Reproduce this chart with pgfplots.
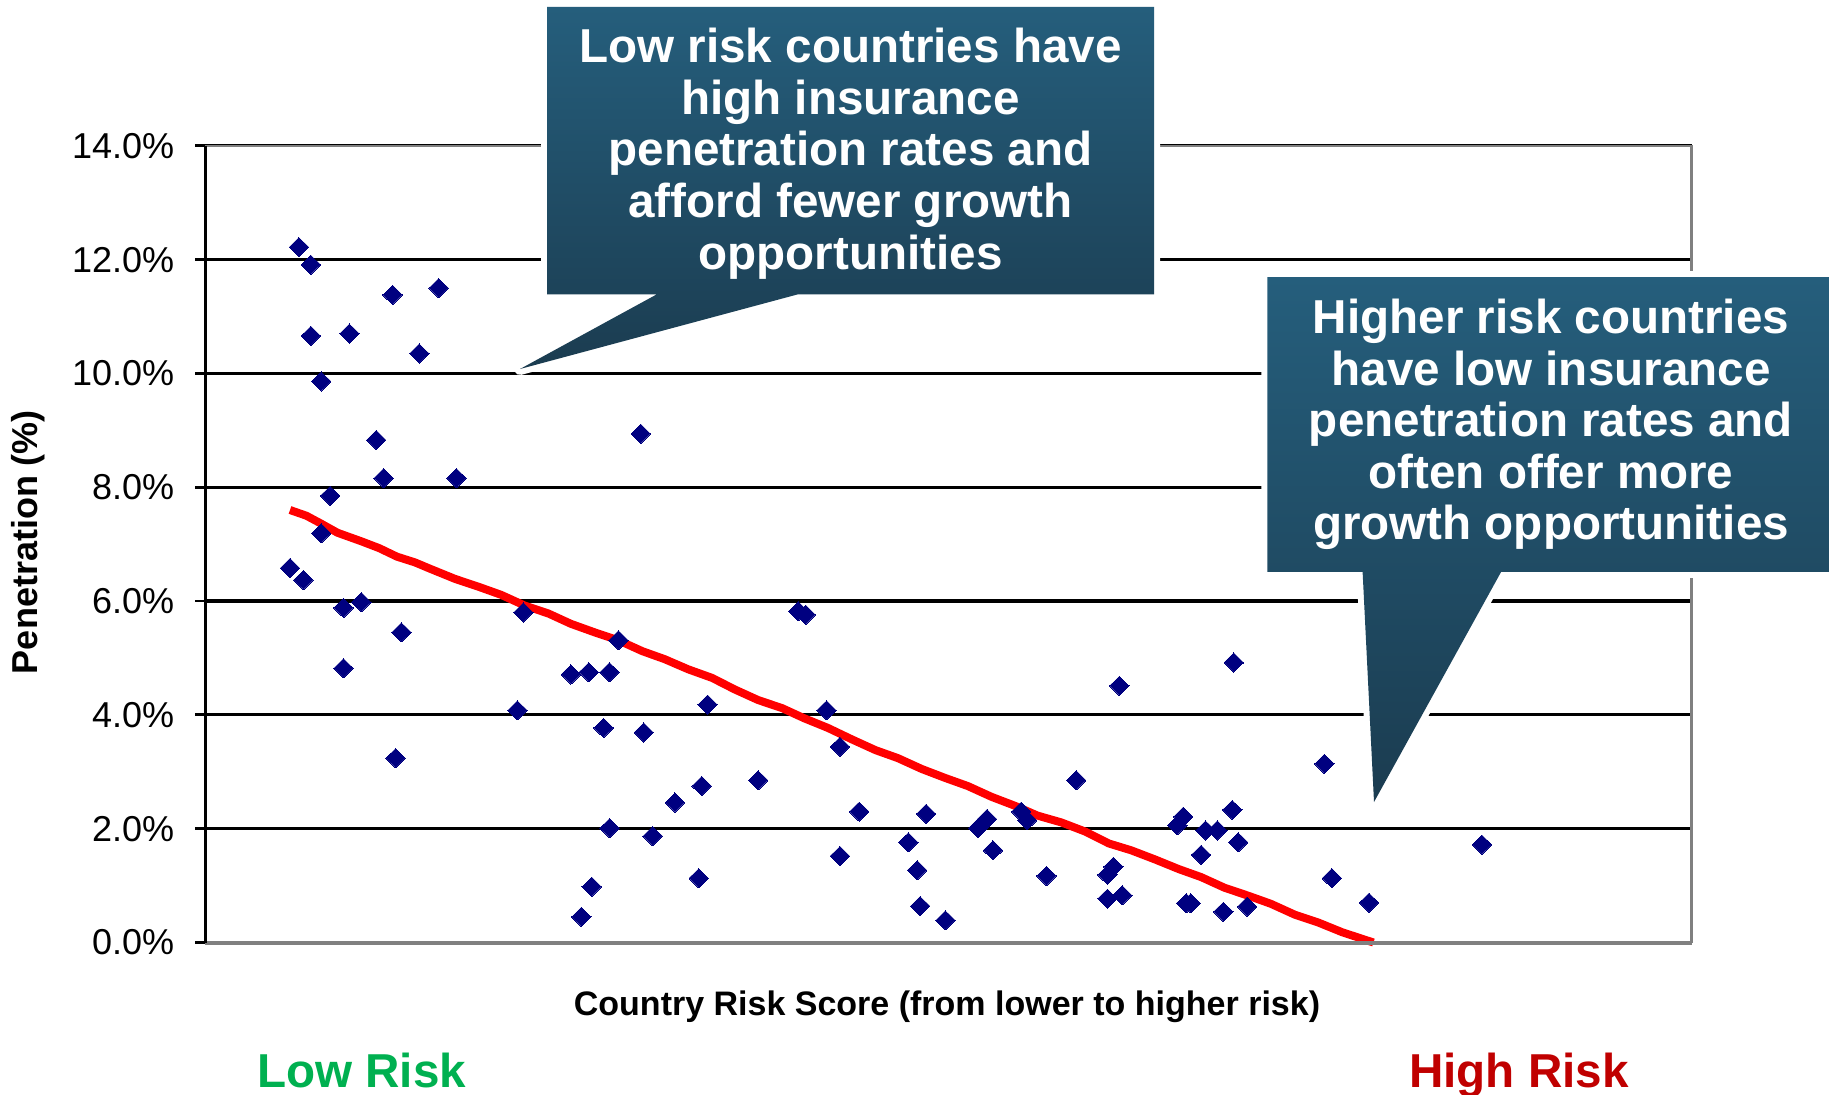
\documentclass[border=0pt]{standalone}
\usepackage{pgfplots}
\usepackage{pgfplotstable}
\pgfplotsset{compat=1.18}
\usepackage{fontspec}
\setmainfont{Liberation Sans}
\definecolor{navy}{RGB}{0,0,128}
\definecolor{lowgreen}{RGB}{0,176,80}
\definecolor{highred}{RGB}{192,0,0}
\definecolor{calltop}{RGB}{37,94,124}
\definecolor{callbot}{RGB}{27,60,80}
\definecolor{bordergray}{RGB}{128,128,128}

\pgfplotstableread{
x y
5.7 6.58
6.3 12.22
6.6 6.37
7.1 11.91
7.1 10.66
7.8 9.86
7.8 7.19
8.4 7.85
9.3 5.88
9.3 4.82
9.7 10.70
10.5 5.98
11.5 8.83
12.0 8.16
12.6 11.38
12.8 3.24
13.2 5.45
14.4 10.35
15.7 11.50
16.9 8.16
21.0 4.08
21.4 5.80
24.6 4.71
25.3 0.45
25.8 4.75
26.0 0.98
26.8 3.77
27.2 4.75
27.2 2.01
27.8 5.31
29.3 8.94
29.5 3.69
30.1 1.87
31.6 2.46
33.2 1.13
33.4 2.75
33.8 4.18
37.2 2.85
39.9 5.82
40.4 5.76
41.8 4.08
42.7 3.44
42.7 1.52
44.0 2.30
47.3 1.76
47.9 1.27
48.1 0.64
48.5 2.26
49.8 0.39
52.0 2.01
52.6 2.17
53.0 1.62
54.9 2.30
55.3 2.15
56.6 1.17
58.6 2.85
60.7 1.19
60.7 0.77
61.1 1.33
61.5 4.51
61.7 0.83
65.4 2.06
65.8 2.21
66.0 0.69
66.3 0.69
67.0 1.54
67.3 1.97
68.1 1.97
68.5 0.54
69.1 2.33
69.2 4.92
69.5 1.76
70.1 0.63
75.3 3.14
75.8 1.13
78.3 0.70
85.9 1.72
}\scatterdata

\pgfplotstableread{
x y
5.7 7.60
6.8 7.50
7.8 7.36
8.9 7.20
10.5 7.05
11.7 6.93
12.9 6.78
14.1 6.68
15.2 6.56
16.8 6.39
18.4 6.25
19.9 6.11
21.5 5.92
23.1 5.78
24.6 5.60
26.2 5.45
27.8 5.31
29.4 5.12
30.9 4.98
32.5 4.80
34.1 4.65
35.6 4.45
37.2 4.26
38.8 4.12
40.3 3.94
41.9 3.77
43.5 3.57
45.1 3.38
46.6 3.24
48.2 3.05
49.8 2.89
51.3 2.75
52.9 2.56
54.5 2.40
56.0 2.23
57.6 2.11
59.2 1.95
60.8 1.74
62.3 1.62
63.9 1.46
65.5 1.29
67.0 1.15
68.6 0.96
70.2 0.82
71.7 0.68
73.3 0.49
74.9 0.35
76.5 0.18
78.6 0.00
}\trenddata

\begin{document}
\begin{tikzpicture}
\path[use as bounding box] (-102.65pt,-75.75pt) rectangle (811.85pt,471.25pt);
\begin{axis}[
  at={(0pt,0pt)}, anchor=south west,
  scale only axis, width=743.1pt, height=398.35pt,
  xmin=0, xmax=100, ymin=0, ymax=14,
  xtick=\empty,
  ytick={0,2,4,6,8,10,12,14},
  yticklabels={0.0\%,2.0\%,4.0\%,6.0\%,8.0\%,10.0\%,12.0\%,14.0\%},
  ymajorgrids, grid style={black, line width=1.6pt},
  axis line style={draw=none},
  tick align=outside, ytick pos=left, major tick length=5pt,
  major tick style={black, line width=1.4pt},
  yticklabel style={font=\fontsize{18}{18}\selectfont, xshift=-7pt},
  /pgf/number format/assume math mode=true,
  clip=false,
]
\addplot[only marks, mark=diamond*, mark size=4.8pt, mark options={xscale=1.35, fill=navy, draw=navy, line width=0pt}] table[x=x,y=y] {\scatterdata};
\addplot[red, line width=4pt, no markers, line join=round] table[x=x,y=y] {\trenddata};
\draw[bordergray, line width=1.3pt] (rel axis cs:0,1) -- (rel axis cs:1,1) -- (rel axis cs:1,0);
\draw[bordergray, line width=2pt] (rel axis cs:0,0) -- (rel axis cs:1,0);
\draw[black, line width=1.4pt] (rel axis cs:0,0) -- (rel axis cs:0,1);
\end{axis}

% left callout
\draw[white, line width=6pt, line join=round] (170.85pt,467.75pt) -- (474.35pt,467.75pt) -- (474.35pt,324pt) -- (296pt,324pt) -- (157.35pt,286.75pt) -- (225.6pt,324pt) -- (170.85pt,324pt) -- cycle;
\shade[top color=calltop, bottom color=callbot] (170.85pt,467.75pt) -- (474.35pt,467.75pt) -- (474.35pt,324pt) -- (296pt,324pt) -- (157.35pt,286.75pt) -- (225.6pt,324pt) -- (170.85pt,324pt) -- cycle;
\node[white, font=\bfseries\fontsize{23.8}{25.8}\selectfont, align=center] at (322.6pt,394.5pt) {Low risk countries have\\high insurance\\penetration rates and\\afford fewer growth\\opportunities};

% right callout
\draw[white, line width=6pt, line join=round] (531.05pt,332.65pt) -- (815pt,332.65pt) -- (815pt,185.3pt) -- (647.9pt,185.3pt) -- (584.35pt,70.25pt) -- (578.65pt,185.3pt) -- (531.05pt,185.3pt) -- cycle;
\shade[top color=calltop, bottom color=callbot] (531.05pt,332.65pt) -- (815pt,332.65pt) -- (815pt,185.3pt) -- (647.9pt,185.3pt) -- (584.35pt,70.25pt) -- (578.65pt,185.3pt) -- (531.05pt,185.3pt) -- cycle;
\node[white, font=\bfseries\fontsize{23.8}{25.8}\selectfont, align=center] at (672.85pt,259pt) {Higher risk countries\\have low insurance\\penetration rates and\\often offer more\\growth opportunities};

% labels
\node[rotate=90, font=\bfseries\fontsize{18}{18}\selectfont] at (-88.65pt,200.25pt) {Penetration (\%)};
\node[anchor=base, font=\bfseries\fontsize{17}{17}\selectfont] at (370.85pt,-36.25pt) {Country Risk Score (from lower to higher risk)};
\node[anchor=base, text=lowgreen, font=\bfseries\fontsize{23.8}{23.8}\selectfont] at (78.15pt,-72.25pt) {Low Risk};
\node[anchor=base, text=highred, font=\bfseries\fontsize{23.8}{23.8}\selectfont] at (656.75pt,-72.25pt) {High Risk};
\end{tikzpicture}
\end{document}
